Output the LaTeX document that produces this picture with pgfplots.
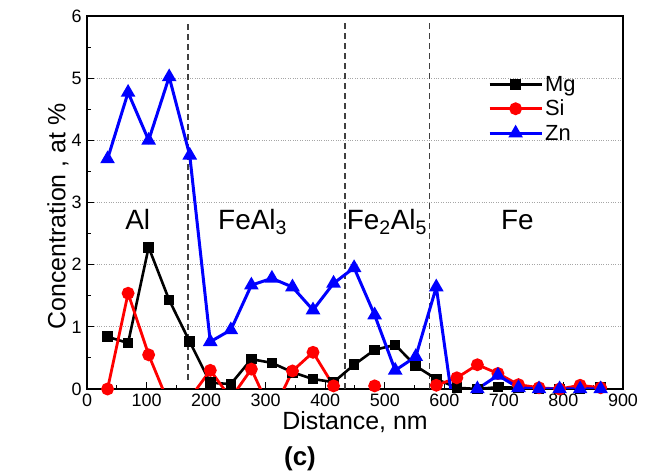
\documentclass[border=0pt]{standalone}
\usepackage{fontspec}
\setmainfont{Liberation Sans}
\usepackage{pgfplots}
\pgfplotsset{compat=1.18}
\pgfplotstableread{
x Mg Si Zn
34.5 0.84 0.00 3.70
69 0.74 1.54 4.77
103.5 2.28 0.55 4.00
138 1.43 -0.25 5.02
172.5 0.76 -0.15 3.76
207 0.10 0.30 0.76
241.5 0.08 -0.15 0.95
276 0.48 0.32 1.67
310.5 0.42 -0.40 1.78
345 0.27 0.29 1.64
379.5 0.16 0.59 1.27
414 0.11 0.05 1.70
448.5 0.39 -1.00 1.95
483 0.63 0.05 1.19
517.5 0.71 -1.00 0.30
552 0.37 -1.00 0.52
586.5 0.16 0.06 1.64
621 0.02 0.18 -0.70
655.5 0.00 0.39 0.00
690 0.03 0.25 0.22
724.5 0.02 0.07 0.02
759 0.00 0.02 0.00
793.5 0.00 0.00 0.00
828 0.00 0.06 0.00
862.5 0.02 0.02 0.00
}\datatable
\begin{document}
\begin{tikzpicture}
\useasboundingbox (0,0) rectangle (652bp,475bp);
\begin{axis}[
  name=main,
  at={(87bp,86bp)}, anchor=south west,
  scale only axis, width=536bp, height=373bp,
  xmin=0, xmax=900, ymin=0, ymax=6,
  xtick={0,100,...,900}, ytick={0,1,...,6},
  minor x tick num=1, minor y tick num=1,
  tick align=inside, tick pos=left,
  major tick length=7bp, minor tick length=4bp,
  every tick/.style={black, line width=1bp},
  axis line style={line width=1.3bp},
  ymajorgrids, major grid style={gray!70, dotted, line width=0.8bp},
  /pgf/number format/assume math mode=true,
  ticklabel style={font=\fontsize{18}{20}\selectfont},
  xticklabel style={yshift=-1bp},
  yticklabel style={xshift=-2bp},
  xlabel={Distance, nm},
  ylabel={Concentration , at \%},
  label style={font=\fontsize{25}{28}\selectfont},
  xlabel style={yshift=2bp},
  ylabel style={yshift=-4bp, xshift=-14bp},
  legend style={at={(0.748,0.845)}, anchor=north west, draw=none, fill=none,
    font=\fontsize{22}{24}\selectfont, row sep=3.5bp, inner sep=0pt},
  legend cell align=left,
  legend image code/.code={\draw[mark repeat=2, mark phase=2] plot coordinates {(0bp,0bp) (26bp,0bp) (52bp,0bp)};},
]
\addplot[forget plot, dash pattern=on 6bp off 4bp, line width=1.5bp, black!75] coordinates {(170,0.15) (170,5.9)};
\addplot[forget plot, dash pattern=on 6bp off 4bp, line width=1.5bp, black!75] coordinates {(433,0) (433,5.9)};
\addplot[forget plot, dash pattern=on 6bp off 4bp, line width=1.5bp, black!75] coordinates {(575,0) (575,5.9)};
\addplot[black, line width=2.6bp, mark=square*, mark size=4bp] table[x=x, y=Mg] {\datatable};
\addlegendentry{Mg}
\addplot[red, line width=2.8bp, mark=*, mark size=5bp] table[x=x, y=Si] {\datatable};
\addlegendentry{Si}
\addplot[blue, line width=3bp, mark=triangle*, mark size=5.5bp] table[x=x, y=Zn] {\datatable};
\addlegendentry{Zn}
\node[anchor=base west, font=\fontsize{28}{30}\selectfont, inner sep=0pt] at (axis cs:64,2.56) {Al};
\node[anchor=base west, font=\fontsize{28}{30}\selectfont, inner sep=0pt] at (axis cs:220,2.56) {FeAl$_{\mathrm{3}}$};
\node[anchor=base west, font=\fontsize{28}{30}\selectfont, inner sep=0pt] at (axis cs:436,2.56) {Fe$_{\mathrm{2}}$Al$_{\mathrm{5}}$};
\node[anchor=base west, font=\fontsize{28}{30}\selectfont, inner sep=0pt] at (axis cs:695,2.56) {Fe};
\end{axis}
\node[font=\bfseries\fontsize{26}{28}\selectfont, inner sep=0pt] at ([yshift=-70bp]main.south west -| 300bp,0) {(c)};
\end{tikzpicture}
\end{document}
